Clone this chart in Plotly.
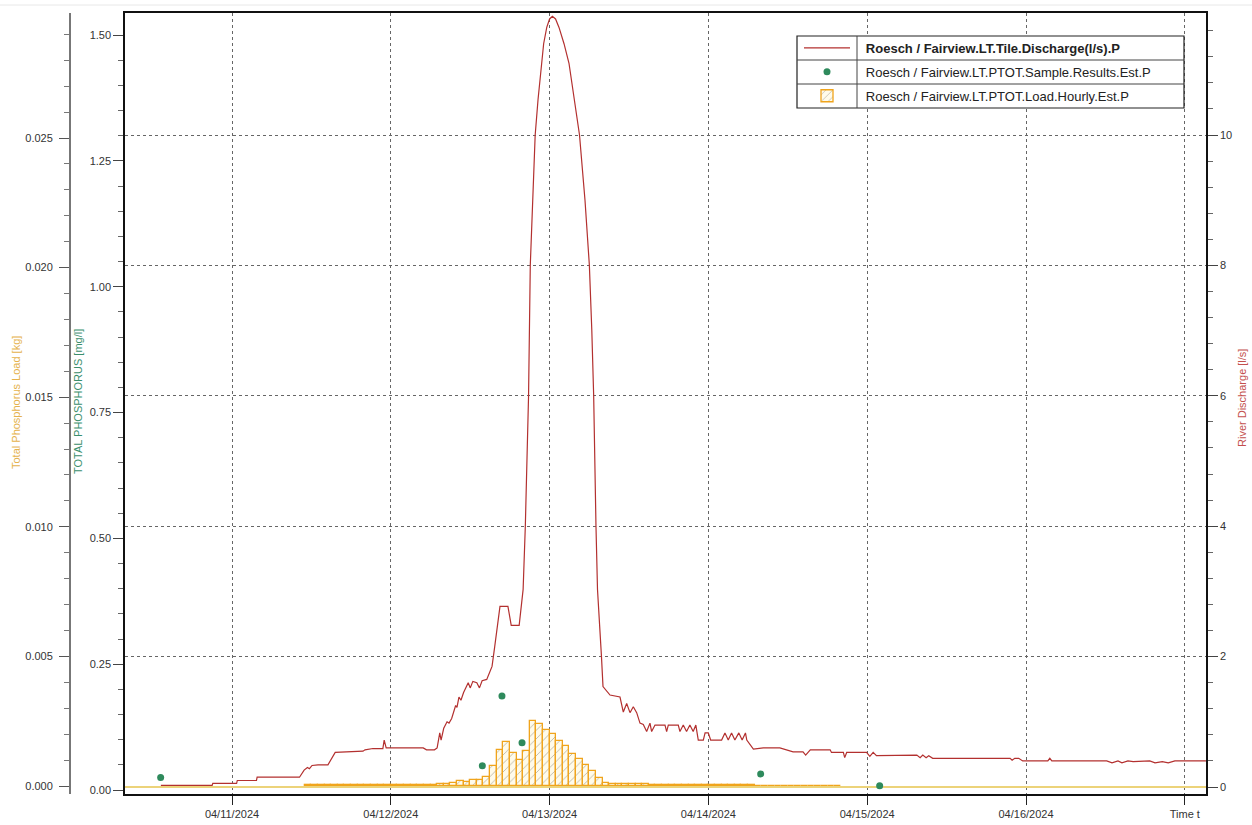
import pandas as pd
import plotly.graph_objects as go

# ---------------- data ----------------
# Discharge (l/s): time in hours after 2024-04-11 00:00
T0 = pd.Timestamp("2024-04-11 00:00")
discharge_hours = [
    -10.75, -3.0, -2.9, 0.7, 0.8, 3.7, 3.8, 10.2, 10.9, 11.4, 11.7, 12.1, 13.0, 14.5, 15.6,
    19.8, 20.1, 21.3, 22.8, 23.0, 23.3, 28.9, 29.4, 30.6, 31.0, 31.4, 31.6, 32.0, 32.5, 32.8,
    33.2, 33.8, 34.0, 34.3, 34.6, 35.0, 35.7, 36.0, 36.4, 37.0, 37.4, 37.8, 38.5, 39.3, 39.7,
    40.1, 40.5, 41.7, 42.2, 43.4, 43.8, 44.0, 44.33, 44.82, 45.08, 45.82, 46.25, 46.73, 47.1,
    47.57, 48.0, 48.42, 48.9, 49.42, 50.18, 50.93, 51.75, 52.52, 53.35, 54.01, 54.38, 54.66,
    55.01, 55.24, 55.84, 56.07,
    57.13, 58.64, 59.14,
    59.65, 60.15, 60.65, 61.16, 61.66, 62.16, 62.67, 63.17, 63.42, 63.93, 65.44, 65.69, 65.94,
    67.45, 67.7, 68.2, 68.7, 69.2, 69.7, 70.1, 70.47, 71.23, 71.5, 71.98, 72.34, 74.0, 74.5,
    75.0, 75.5, 76.0, 76.6, 77.1, 77.6, 77.8, 78.29, 78.8, 80.3, 82.8, 84.8, 86.3, 86.7, 87.4,
    90.4, 90.6, 92.4, 92.6, 92.9, 95.9, 96.4, 96.9, 97.4, 103.5, 104.0, 104.4, 104.9, 105.3,
    105.9, 117.6, 117.9, 118.3, 118.9, 119.5, 123.3, 123.6, 123.9, 132.2, 133.0, 133.9, 134.5,
    135.4, 136.2, 138.7, 139.5, 140.6, 141.5, 142.5, 147.2,
]
discharge_ls = [
    0.026, 0.026, 0.057, 0.057, 0.10, 0.10, 0.15, 0.15, 0.26, 0.30, 0.28, 0.33, 0.34, 0.34, 0.53,
    0.55, 0.57, 0.59, 0.59, 0.72, 0.60, 0.60, 0.57, 0.57, 0.60, 0.83, 0.72, 0.90, 1.00, 0.98,
    1.05, 1.25, 1.22, 1.38, 1.33, 1.45, 1.60, 1.52, 1.62, 1.60, 1.52, 1.63, 1.65, 1.85, 2.15,
    2.50, 2.77, 2.77, 2.48, 2.48, 2.80, 3.03, 4.0, 6.0, 8.0, 10.0, 10.54, 11.1, 11.4,
    11.65, 11.78, 11.82, 11.78, 11.65, 11.4, 11.1, 10.54, 10.0, 9.0, 8.0, 7.0, 6.0,
    4.0, 3.03, 2.0, 1.54,
    1.41, 1.38, 1.15,
    1.28, 1.14, 1.23, 1.14, 0.98, 0.96, 0.85, 0.98, 0.85, 0.95, 0.95, 0.85, 0.95,
    0.95, 0.85, 0.95, 0.85, 0.95, 0.85, 0.95, 0.72, 0.72, 0.83, 0.83, 0.72, 0.72, 0.83,
    0.72, 0.83, 0.72, 0.83, 0.72, 0.83, 0.72, 0.65, 0.58, 0.60, 0.60, 0.54, 0.54, 0.49, 0.57,
    0.57, 0.53, 0.53, 0.45, 0.53, 0.53, 0.47, 0.53, 0.48, 0.49, 0.45, 0.49, 0.45, 0.48,
    0.44, 0.44, 0.41, 0.44, 0.44, 0.40, 0.40, 0.44, 0.40, 0.40, 0.37, 0.40, 0.37,
    0.40, 0.39, 0.40, 0.37, 0.39, 0.37, 0.40, 0.40,
]

# Total phosphorus samples (mg/l)
sample_times = ["2024-04-10 13:13", "2024-04-12 13:50", "2024-04-12 16:48",
                "2024-04-12 19:50", "2024-04-14 07:54", "2024-04-15 01:53"]
sample_mgl = [0.025, 0.048, 0.187, 0.094, 0.032, 0.0085]

# Hourly phosphorus load (kg), first hour starting 2024-04-11 11:00
load_start = "2024-04-11 11:00"
load_kg = [
    0.00004, 0.00004, 0.00004, 0.00004, 0.00004, 0.00004, 0.00004, 0.00004,
    0.00004, 0.00004, 0.00004, 0.00004, 0.00004, 0.00004, 0.00004,
    0.00005, 0.00005, 0.00005, 0.00005, 0.00005,
    0.00006, 0.00008, 0.00012, 0.00020, 0.00016, 0.00022, 0.00022,
    0.00035, 0.00076, 0.00140, 0.00170, 0.00129, 0.00099, 0.00134, 0.00251, 0.00241,
    0.00215, 0.00200, 0.00174, 0.00153, 0.00125, 0.00106, 0.00080, 0.00057, 0.00029, 0.00012,
    0.00009, 0.00009, 0.00009, 0.00009, 0.00009, 0.00009,
    0.00005, 0.00005, 0.00005, 0.00005, 0.00005, 0.00005, 0.00005, 0.00005,
    0.00005, 0.00005, 0.00005, 0.00005, 0.00005, 0.00005, 0.00005, 0.00005,
    0.00001, 0.00001, 0.00001, 0.00001, 0.00001, 0.00001, 0.00001,
    0.00001, 0.00001, 0.00001, 0.00001, 0.00001, 0.00001,
]

day_ticks = ["2024-04-11", "2024-04-12", "2024-04-13", "2024-04-14",
             "2024-04-15", "2024-04-16", "2024-04-17"]
day_labels = ["04/11/2024", "04/12/2024", "04/13/2024", "04/14/2024",
              "04/15/2024", "04/16/2024", "Time t"]

PAD = "\u00a0\u00a0\u00a0"
legend_names = [PAD + "<b>Roesch / Fairview.LT.Tile.Discharge(l/s).P</b>",
                PAD + "Roesch / Fairview.LT.PTOT.Sample.Results.Est.P",
                PAD + "Roesch / Fairview.LT.PTOT.Load.Hourly.Est.P"]

# ---------------- derived ----------------
discharge_times = [T0 + pd.Timedelta(hours=h) for h in discharge_hours]
load_times = pd.date_range(load_start, periods=len(load_kg), freq="h")

# ---------------- geometry ----------------
W, H = 1252, 825
PL, PR, PT, PB = 125, 1206, 13, 794


def paper_x(px):
    return px / W


def paper_y(py):
    return (PB - py) / (PB - PT)


FONT = "Liberation Sans, Arial, sans-serif"
RED = "#b3302f"
GREEN = "#2e8a5c"
ORANGE = "#f0a41c"

fig = go.Figure()

fig.add_trace(go.Scatter(
    x=discharge_times, y=discharge_ls, mode="lines", name=legend_names[0],
    line=dict(color=RED, width=1.2), yaxis="y", legendgroup="a"))

fig.add_trace(go.Scatter(
    x=pd.to_datetime(sample_times), y=sample_mgl, mode="markers", name=legend_names[1],
    marker=dict(color=GREEN, size=7), yaxis="y2", legendgroup="b"))

fig.add_trace(go.Bar(
    x=load_times, y=load_kg, name=legend_names[2], yaxis="y3", legendgroup="c",
    width=3600000, offset=0,
    marker=dict(color="#fffbea", line=dict(color=ORANGE, width=1.3),
                pattern=dict(shape="/", fgcolor="#5a5040", bgcolor="#fffbea",
                             size=6, solidity=0.12))))

x_left = T0 + pd.Timedelta(hours=(PL - 232) * 24 / 158.8)
x_right = T0 + pd.Timedelta(hours=(PR - 232) * 24 / 158.8)

tickfont = dict(family=FONT, size=11, color="#333333")

fig.update_layout(
    width=W, height=H,
    margin=dict(l=0, r=0, t=PT, b=H - PB),
    paper_bgcolor="white", plot_bgcolor="white",
    font=dict(family=FONT),
    bargap=0,
    showlegend=True,
    legend=dict(x=paper_x(799), xanchor="left", y=paper_y(33), yanchor="top",
                bgcolor="rgba(0,0,0,0)", borderwidth=0, itemwidth=46,
                traceorder="grouped", tracegroupgap=4,
                font=dict(family=FONT, size=13, color="#222222")),
    xaxis=dict(domain=[paper_x(PL), paper_x(PR)], type="date",
               range=[x_left, x_right], tickmode="array",
               tickvals=day_ticks, ticktext=day_labels,
               ticks="outside", ticklen=9, tickcolor="#222", tickwidth=1,
               showline=True, linecolor="#111", linewidth=1.5, mirror=True,
               showgrid=True, gridcolor="#666", griddash="dot", gridwidth=1,
               zeroline=False, tickfont=tickfont),
    yaxis=dict(side="right", range=[-(PB - 787) / 65.2, (787 - PT) / 65.2],
               tickmode="array", tickvals=[0, 2, 4, 6, 8, 10],
               ticks="outside", ticklen=10, tickcolor="#444",
               minor=dict(dtick=0.4, tick0=0, ticks="outside", ticklen=5,
                          tickcolor="#666", showgrid=False),
               showline=True, linecolor="#111", linewidth=1.5,
               showgrid=True, gridcolor="#666", griddash="dot", gridwidth=1,
               zeroline=True, zerolinecolor="#ecd37a", zerolinewidth=1.5,
               tickfont=tickfont),
    yaxis2=dict(overlaying="y", side="left", anchor="x",
                range=[-(PB - 790) / 503.3, (790 - PT) / 503.3],
                tickmode="linear", tick0=0, dtick=0.25, tickformat=".2f",
                ticks="outside", ticklen=10, tickcolor="#444",
                minor=dict(dtick=0.05, tick0=0, ticks="outside", ticklen=5,
                           tickcolor="#666", showgrid=False),
                showline=True, linecolor="#111", linewidth=1.5,
                showgrid=False, zeroline=False, tickfont=tickfont),
    yaxis3=dict(overlaying="y", side="left", anchor="free", position=paper_x(70),
                range=[-(PB - 786) / 25920, (786 - PT) / 25920],
                tickmode="linear", tick0=0, dtick=0.005, tickformat=".3f",
                ticks="outside", ticklen=10, tickcolor="#555", ticklabelstandoff=4,
                minor=dict(dtick=0.001, tick0=0, ticks="outside", ticklen=5,
                           tickcolor="#777", showgrid=False),
                showline=True, linecolor="#777", linewidth=2,
                showgrid=False, zeroline=False, tickfont=tickfont),
)

# axis titles
fig.add_annotation(text="Total Phosphorus Load [kg]", x=paper_x(16), y=paper_y(403),
                   xref="paper", yref="paper", textangle=-90, showarrow=False,
                   xanchor="center", yanchor="middle",
                   font=dict(family=FONT, size=11, color="#e5b24c"))
fig.add_annotation(text="TOTAL PHOSPHORUS [mg/l]", x=paper_x(78), y=paper_y(402),
                   xref="paper", yref="paper", textangle=-90, showarrow=False,
                   xanchor="center", yanchor="middle",
                   font=dict(family=FONT, size=11, color="#3a8f6c"))
fig.add_annotation(text="River Discharge [l/s]", x=paper_x(1242), y=paper_y(398),
                   xref="paper", yref="paper", textangle=-90, showarrow=False,
                   xanchor="center", yanchor="middle",
                   font=dict(family=FONT, size=11, color="#c4504e"))

# legend table frame
LX0, LX1, LY0, LY1, LSYM = 797, 1184, 36, 108, 857
fig.add_shape(type="rect", xref="paper", yref="paper",
              x0=paper_x(LX0), x1=paper_x(LX1), y0=paper_y(LY1), y1=paper_y(LY0),
              fillcolor="white", line=dict(color="#222", width=1.2), layer="above")
fig.add_shape(type="line", xref="paper", yref="paper",
              x0=paper_x(LSYM), x1=paper_x(LSYM), y0=paper_y(LY1), y1=paper_y(LY0),
              line=dict(color="#444", width=1), layer="above")
for row_py in (60, 84):
    fig.add_shape(type="line", xref="paper", yref="paper",
                  x0=paper_x(LX0), x1=paper_x(LX1), y0=paper_y(row_py), y1=paper_y(row_py),
                  line=dict(color="#444", width=1), layer="above")

# faint top border line of the screenshot
fig.add_shape(type="line", xref="paper", yref="paper",
              x0=0, x1=1, y0=paper_y(5), y1=paper_y(5),
              line=dict(color="#e8e8e8", width=1))

fig.write_html("out.html")
